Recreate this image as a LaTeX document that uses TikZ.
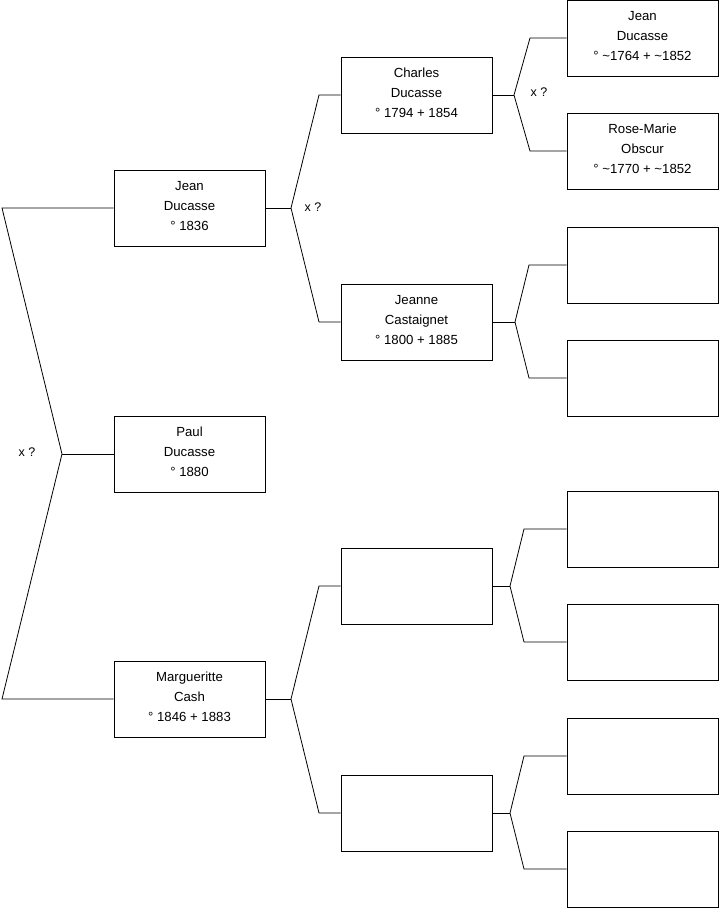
\documentclass[tikz,border=0pt]{standalone}
\usepackage{fontspec}
\setmainfont{Liberation Sans}
\begin{document}
\begin{tikzpicture}[x=1pt,y=-1pt,
  box/.style={draw=black,line width=0.9pt,minimum width=151pt,minimum height=76pt,inner sep=0pt},
  txt/.style={align=center,inner sep=0pt,yshift=1.8pt,font=\fontsize{13.2}{20}\selectfont},
  conn/.style={draw=black,line width=0.8pt},
  lbl/.style={font=\fontsize{12.5}{14}\selectfont,inner sep=0pt}]
\useasboundingbox (0,0) rectangle (719,908);
% column 1
\node[box] (jean) at (189.5,208) {};
\node[txt] (tjean) at (jean.center) {Jean\\Ducasse\\° 1836};
\node[box] (paul) at (189.5,454) {};
\node[txt] (tpaul) at (paul.center) {Paul\\Ducasse\\° 1880};
\node[box] (marg) at (189.5,699) {};
\node[txt] (tmarg) at (marg.center) {Margueritte\\Cash\\° 1846 + 1883};
% column 2
\node[box] (charles) at (416.5,95) {};
\node[txt] (tcharles) at (charles.center) {Charles\\Ducasse\\° 1794 + 1854};
\node[box] (jeanne) at (416.5,322) {};
\node[txt] (tjeanne) at (jeanne.center) {Jeanne\\Castaignet\\° 1800 + 1885};
\node[box] (e1) at (416.5,586) {};
\node[box] (e2) at (416.5,813) {};
% column 3
\node[box] (jd) at (642.5,38) {};
\node[txt] (tjd) at (jd.center) {Jean\\Ducasse\\° \textasciitilde 1764 + \textasciitilde 1852};
\node[box] (rm) at (642.5,151) {};
\node[txt] (trm) at (rm.center) {Rose-Marie\\Obscur\\° \textasciitilde 1770 + \textasciitilde 1852};
\node[box] (g3) at (642.5,265) {};
\node[box] (g4) at (642.5,378) {};
\node[box] (g5) at (642.5,529) {};
\node[box] (g6) at (642.5,642) {};
\node[box] (g7) at (642.5,756) {};
\node[box] (g8) at (642.5,869) {};
% left bracket
\coordinate (l1) at (2,208);
\coordinate (l2) at (62,454);
\coordinate (l3) at (2,699);
\draw[conn] (jean.west) -- (l1) -- (l2) -- (l3) -- (marg.west);
\draw[conn] (l2) -- (paul.west);
\node[lbl] (x1) at (27,452) {x ?};
% Jean's parents
\coordinate (f1) at (291,208);
\coordinate (f1a) at (319,95);
\coordinate (f1b) at (319,322);
\draw[conn] (jean.east) -- (f1);
\draw[conn] (charles.west) -- (f1a) -- (f1) -- (f1b) -- (jeanne.west);
\node[lbl] (x2) at (313,207) {x ?};
% Margueritte's parents
\coordinate (f2) at (291,699);
\coordinate (f2a) at (319,586);
\coordinate (f2b) at (319,813);
\draw[conn] (marg.east) -- (f2);
\draw[conn] (e1.west) -- (f2a) -- (f2) -- (f2b) -- (e2.west);
% Charles' parents
\coordinate (f3) at (514,95);
\coordinate (f3a) at (530,38);
\coordinate (f3b) at (530,151);
\draw[conn] (charles.east) -- (f3);
\draw[conn] (jd.west) -- (f3a) -- (f3) -- (f3b) -- (rm.west);
\node[lbl] (x3) at (539,92) {x ?};
% Jeanne's parents
\coordinate (f4) at (515,322);
\coordinate (f4a) at (529,265);
\coordinate (f4b) at (529,378);
\draw[conn] (jeanne.east) -- (f4);
\draw[conn] (g3.west) -- (f4a) -- (f4) -- (f4b) -- (g4.west);
% e1 parents
\coordinate (f5) at (510,586);
\coordinate (f5a) at (524,529);
\coordinate (f5b) at (524,642);
\draw[conn] (e1.east) -- (f5);
\draw[conn] (g5.west) -- (f5a) -- (f5) -- (f5b) -- (g6.west);
% e2 parents
\coordinate (f6) at (510,813);
\coordinate (f6a) at (524,756);
\coordinate (f6b) at (524,869);
\draw[conn] (e2.east) -- (f6);
\draw[conn] (g7.west) -- (f6a) -- (f6) -- (f6b) -- (g8.west);
\end{tikzpicture}
\end{document}
